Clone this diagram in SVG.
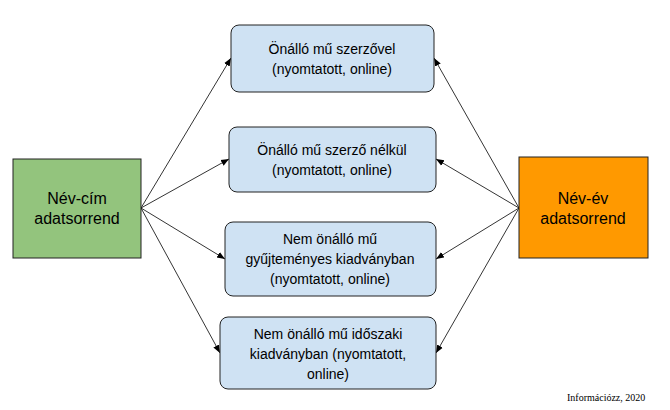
<svg xmlns="http://www.w3.org/2000/svg" width="670" height="410" viewBox="0 0 670 410">
<style>
.b{fill:#cfe2f3;stroke:#222;stroke-width:1}
.t{font-family:"Liberation Sans",Arial,sans-serif;font-size:14px;fill:#000;text-anchor:middle}
.big{font-size:16px}
.c line{stroke:#000;stroke-width:0.8;marker-end:url(#a)}
</style>
<defs><marker id="a" viewBox="0 0 10 10" refX="10" refY="5" markerWidth="8" markerHeight="8" orient="auto" markerUnits="userSpaceOnUse"><path d="M0,1 L10,5 L0,9 z" fill="#000"/></marker></defs>
<rect width="670" height="410" fill="#fff"/>
<g class="c">
<line x1="141" y1="208" x2="231" y2="58"/>
<line x1="141" y1="208" x2="229" y2="159"/>
<line x1="141" y1="208" x2="225" y2="259"/>
<line x1="141" y1="208" x2="220" y2="353"/>
<line x1="519" y1="208" x2="434" y2="58"/>
<line x1="519" y1="208" x2="436" y2="159"/>
<line x1="519" y1="208" x2="436" y2="259"/>
<line x1="519" y1="208" x2="436" y2="353"/>
</g>
<g id="left"><rect x="13" y="159" width="128" height="99" fill="#93c47d" stroke="#222"/>
<text class="t big" x="77" y="204">Név-cím</text><text class="t big" x="77" y="224">adatsorrend</text></g>
<g id="right"><rect x="519" y="157" width="129" height="101" fill="#ff9900" stroke="#222"/>
<text class="t big" x="583" y="204">Név-év</text><text class="t big" x="583" y="224">adatsorrend</text></g>
<g id="n1"><rect class="b" x="231" y="25" width="203" height="67" rx="8"/>
<text class="t" x="332" y="54">Önálló mű szerzővel</text><text class="t" x="332" y="74">(nyomtatott, online)</text></g>
<g id="n2"><rect class="b" x="229" y="127" width="207" height="65" rx="8"/>
<text class="t" x="332" y="155">Önálló mű szerző nélkül</text><text class="t" x="332" y="175">(nyomtatott, online)</text></g>
<g id="n3"><rect class="b" x="225" y="222" width="211" height="74" rx="8"/>
<text class="t" x="330" y="244">Nem önálló mű</text><text class="t" x="330" y="264">gyűjteményes kiadványban</text><text class="t" x="330" y="284">(nyomtatott, online)</text></g>
<g id="n4"><rect class="b" x="220" y="317" width="216" height="72" rx="8"/>
<text class="t" x="328" y="339">Nem önálló mű időszaki</text><text class="t" x="328" y="359">kiadványban (nyomtatott,</text><text class="t" x="328" y="379">online)</text></g>
<text x="567" y="401" font-family="Liberation Serif,serif" font-size="10">Információzz, 2020</text>
</svg>
